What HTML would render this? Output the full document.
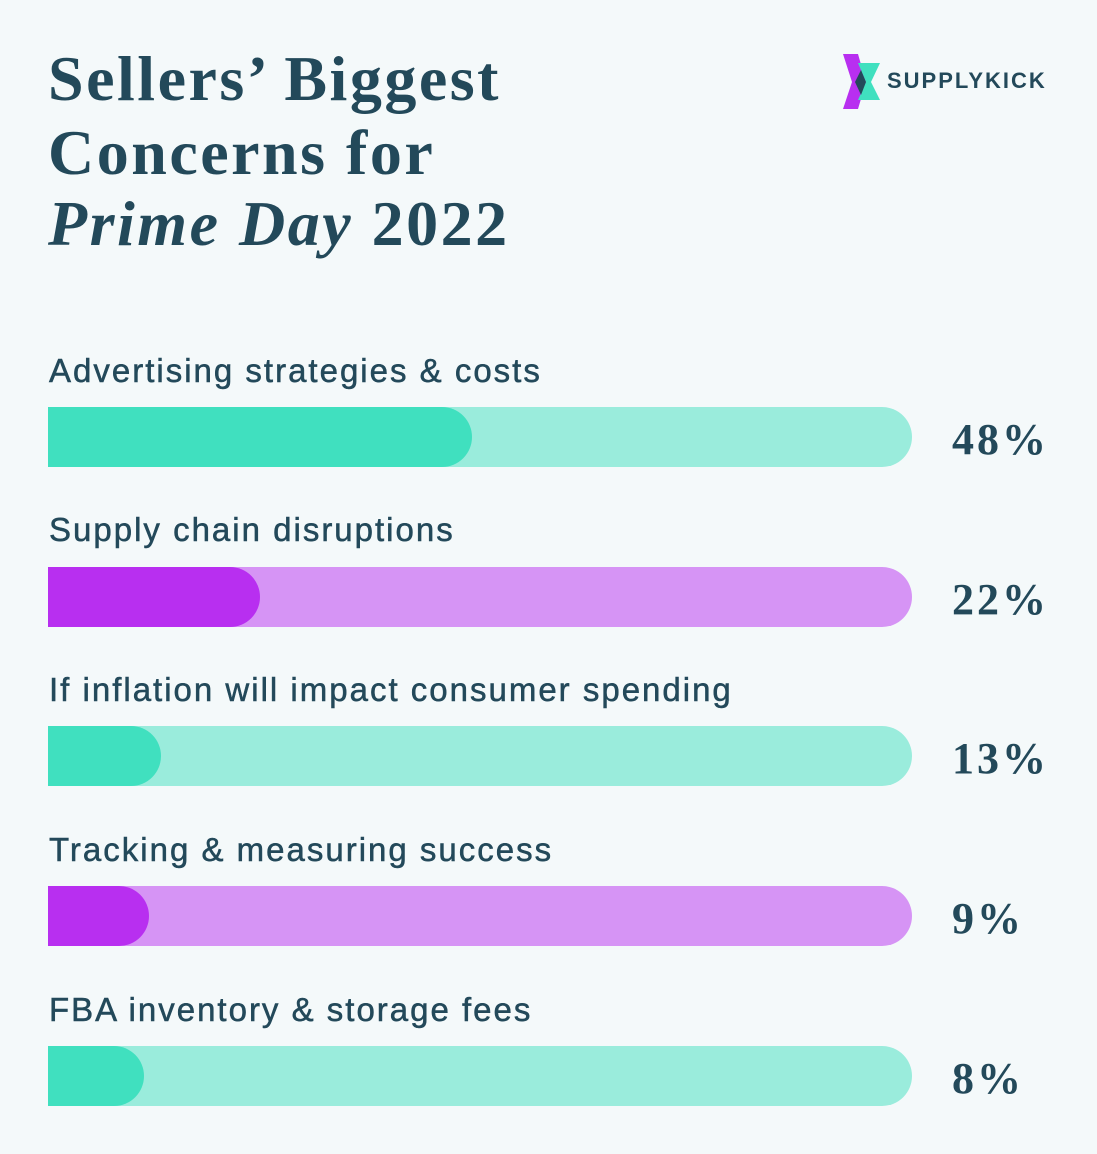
<!DOCTYPE html>
<html><head><meta charset="utf-8"><style>
body{margin:0;width:1097px;height:1154px;background:#f4f9fa;position:relative;overflow:hidden;font-family:"Liberation Sans",sans-serif;color:#23495a}
.t{position:absolute;left:48px;font-family:"Liberation Serif",serif;font-weight:bold;font-size:64px;color:#23495a;letter-spacing:2.5px}
.l{position:absolute;left:49px;font-size:33px;color:#23495a;letter-spacing:2px;-webkit-text-stroke:0.5px #23495a}
.bar{position:absolute;left:48px;width:864px;height:60px;border-radius:0 30px 30px 0;overflow:hidden}
.bar div{height:60px;border-radius:0 30px 30px 0}
.p{position:absolute;left:952px;font-family:"Liberation Serif",serif;font-weight:bold;font-size:44px;color:#23495a;letter-spacing:3px}
</style></head><body>
<div class="t" style="top:42px">Sellers’ Biggest</div>
<div class="t" style="top:116px">Concerns for</div>
<div class="t" style="top:187px"><i>Prime Day</i> 2022</div>
<svg style="position:absolute;left:840px;top:52px" width="45" height="60" viewBox="0 0 45 60">
<polygon points="3,2 18,2 26,30 18,57 3,57 12,30" fill="#b82ff0"/>
<polygon points="18,11 40,11 31,30 40,48 18,48 26,30" fill="#40e0bf"/>
<polygon points="21,18 26,30 21,43 15,30" fill="#23495a"/>
</svg>
<div style="position:absolute;left:887px;top:68px;font-weight:bold;font-size:22px;letter-spacing:2px;color:#23495a">SUPPLYKICK</div>

<div class="l" style="top:352px">Advertising strategies &amp; costs</div>
<div class="bar" style="top:407px;background:#9aecdc"><div style="width:424px;background:#40e0bf"></div></div>
<div class="p" style="top:414px">48%</div>

<div class="l" style="top:511px">Supply chain disruptions</div>
<div class="bar" style="top:567px;background:#d694f5"><div style="width:212px;background:#b82ff0"></div></div>
<div class="p" style="top:574px">22%</div>

<div class="l" style="top:671px">If inflation will impact consumer spending</div>
<div class="bar" style="top:726px;background:#9aecdc"><div style="width:113px;background:#40e0bf"></div></div>
<div class="p" style="top:733px">13%</div>

<div class="l" style="top:831px">Tracking &amp; measuring success</div>
<div class="bar" style="top:886px;background:#d694f5"><div style="width:101px;background:#b82ff0"></div></div>
<div class="p" style="top:893px">9%</div>

<div class="l" style="top:991px">FBA inventory &amp; storage fees</div>
<div class="bar" style="top:1046px;background:#9aecdc"><div style="width:96px;background:#40e0bf"></div></div>
<div class="p" style="top:1053px">8%</div>
</body></html>
